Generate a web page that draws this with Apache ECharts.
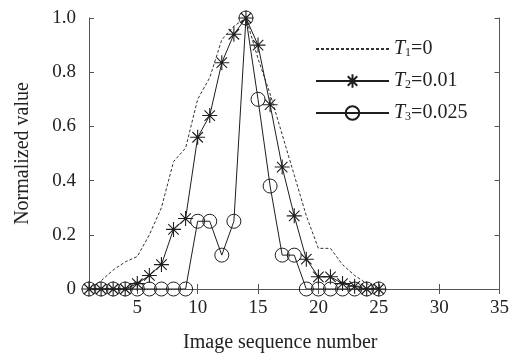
<!DOCTYPE html>
<html>
<head>
<meta charset="utf-8">
<script src="https://cdn.jsdelivr.net/npm/echarts@6/dist/echarts.min.js"></script>
<style>html,body{margin:0;padding:0;background:#fff;}#c{width:512px;height:358px;}</style>
</head>
<body>
<div id="c"></div>
<script>
var xValues = [1,2,3,4,5,6,7,8,9,10,11,12,13,14,15,16,17,18,19,20,21,22,23,24,25];
var t1Values = [0,0.03,0.07,0.10,0.12,0.20,0.30,0.47,0.52,0.70,0.78,0.92,0.97,1.0,0.85,0.72,0.57,0.42,0.27,0.15,0.15,0.09,0.05,0.02,0];
var t2Values = [0,0,0,0,0.02,0.05,0.09,0.22,0.26,0.56,0.64,0.835,0.94,1.0,0.90,0.68,0.45,0.27,0.11,0.045,0.045,0.02,0.01,0,0];
var t3Values = [0,0,0,0,0,0,0,0,0,0.25,0.25,0.125,0.25,1.0,0.70,0.38,0.125,0.125,0,0,0,0,0,0,0];
var xTicks = [5,10,15,20,25,30,35];
var seriesNames = ['T1','T2','T3'];
var legendLabels = {T1:['1','=0'], T2:['2','=0.01'], T3:['3','=0.025']};

function pairs(vals){ return xValues.map(function(x,i){ return [x, vals[i]]; }); }

var FONT = 'Liberation Serif';
var INK = '#1e1e1e';
var AX = '#555';
var starPath = 'path://M0,-10L0,10M-10,0L10,0M-7,-7L7,7M-7,7L7,-7';

var chart = echarts.init(document.getElementById('c'), null, {renderer:'canvas'});
var axisCommon = {
  type:'value', min:1, max:35,
  axisLine:{show:true, lineStyle:{color:AX, width:1}},
  splitLine:{show:false}
};
chart.setOption({
  backgroundColor:'#fff',
  animation:false,
  grid:{left:89, right:7, top:18, bottom:67},
  xAxis:[
    Object.assign({}, axisCommon, {
      position:'bottom',
      axisTick:{show:true, inside:true, length:5, customValues:xTicks, lineStyle:{color:AX}},
      axisLabel:{show:true, customValues:xTicks, margin:10, color:'#222', fontFamily:FONT, fontSize:19},
      name:'Image sequence number', nameLocation:'middle', nameGap:44,
      nameTextStyle:{color:'#222', fontFamily:FONT, fontSize:20, padding:[0,28,0,0]}
    }),
    Object.assign({}, axisCommon, {
      position:'top',
      axisTick:{show:true, inside:true, length:5, customValues:xTicks, lineStyle:{color:AX}},
      axisLabel:{show:false}
    })
  ],
  yAxis:[
    {type:'value', min:0, max:1, interval:0.2, position:'left',
     axisLine:{show:true, lineStyle:{color:AX}},
     axisTick:{show:true, inside:true, length:5, lineStyle:{color:AX}},
     splitLine:{show:false},
     axisLabel:{margin:13, color:'#222', fontFamily:FONT, fontSize:19,
       formatter:function(v){ return v === 0 ? '0' : v.toFixed(1); }},
     name:'Normalized value', nameLocation:'middle', nameGap:56,
     nameTextStyle:{color:'#222', fontFamily:FONT, fontSize:20}
    },
    {type:'value', min:0, max:1, interval:0.2, position:'right',
     axisLine:{show:true, lineStyle:{color:AX}},
     axisTick:{show:true, inside:true, length:5, lineStyle:{color:AX}},
     splitLine:{show:false}, axisLabel:{show:false}
    }
  ],
  legend:{
    orient:'vertical', left:310, top:32, padding:[5,5,5,5],
    backgroundColor:'#fff',
    itemWidth:73, itemHeight:17, itemGap:10,
    data:seriesNames,
    formatter:function(name){ var p = legendLabels[name]; return '{t|T}{s|' + p[0] + '}{e|' + p[1] + '}'; },
    textStyle:{
      color:'#222',
      rich:{
        t:{fontFamily:FONT, fontStyle:'italic', fontSize:20, color:'#222', lineHeight:20},
        s:{fontFamily:FONT, fontSize:12, color:'#222', verticalAlign:'bottom', lineHeight:12, padding:[10,0,0,0]},
        e:{fontFamily:FONT, fontSize:20, color:'#222', lineHeight:20}
      }
    }
  },
  series:[
    {name:'T1', type:'line', data:pairs(t1Values), showSymbol:false, symbol:'none',
     lineStyle:{color:'#333', width:1, type:[3,2]}, itemStyle:{color:'transparent', borderColor:'transparent', opacity:0}, z:2},
    {name:'T2', type:'line', data:pairs(t2Values), symbol:starPath, symbolSize:15,
     lineStyle:{color:INK, width:1}, itemStyle:{color:'transparent', borderColor:INK, borderWidth:1.1}, z:3},
    {name:'T3', type:'line', data:pairs(t3Values), symbol:'circle', symbolSize:14,
     lineStyle:{color:INK, width:1}, itemStyle:{color:'transparent', borderColor:INK, borderWidth:1}, z:4}
  ]
});
</script>
</body>
</html>
